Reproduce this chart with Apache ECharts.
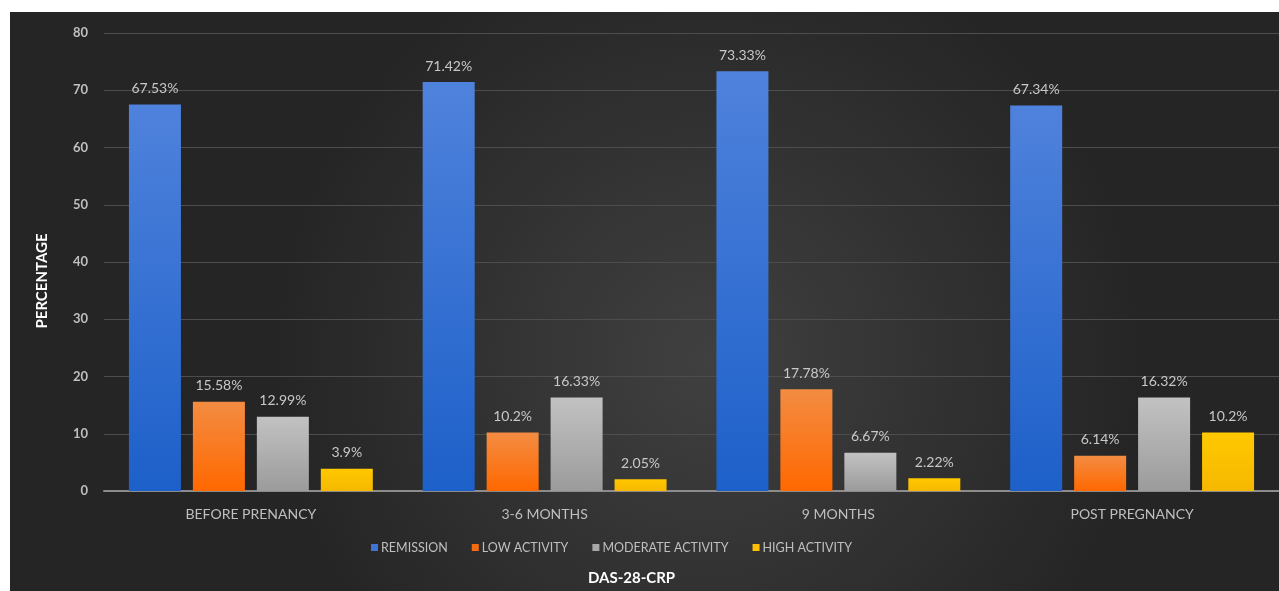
<!DOCTYPE html>
<html><head><meta charset="utf-8">
<script src="https://cdn.jsdelivr.net/npm/echarts@6/dist/echarts.min.js"></script>
<style>html,body{margin:0;padding:0;background:#fff;}#c{width:1279px;height:591px;}</style>
</head><body><div id="c"></div>
<script>
const categories = ['BEFORE PRENANCY', '3-6 MONTHS', '9 MONTHS', 'POST PREGNANCY'];
const seriesNames = ['REMISSION', 'LOW ACTIVITY', 'MODERATE ACTIVITY', 'HIGH ACTIVITY'];
const remission = [67.53, 71.42, 73.33, 67.34];
const lowActivity = [15.58, 10.2, 17.78, 6.14];
const moderateActivity = [12.99, 16.33, 6.67, 16.32];
const highActivity = [3.9, 2.05, 2.22, 10.2];
const yTicks = [0, 10, 20, 30, 40, 50, 60, 70, 80];

const values = [remission, lowActivity, moderateActivity, highActivity];
const grads = [
  ['#4f82dc', '#1d60c9'],
  ['#f38c42', '#ff6800'],
  ['#c2c2c2', '#9b9b9b'],
  ['#ffc800', '#f6b800']
];
const legendColors = ['#3d74d6', '#f46b12', '#a8a8a8', '#ffc000'];
const font = 'Lato, "Open Sans", sans-serif';

const chart = echarts.init(document.getElementById('c'));
chart.setOption({
  animation: false,
  textStyle: {fontFamily: font},
  graphic: [{
    type: 'rect', z: -10, left: 10, top: 12,
    shape: {width: 1269, height: 579},
    style: {fill: new echarts.graphic.RadialGradient(0.55, 0.6, 0.75, [
      {offset: 0, color: '#404040'}, {offset: 1, color: '#252525'}])}
  }],
  grid: {left: 104, right: -5, top: 33, bottom: 96},
  legend: {
    data: seriesNames.map((n, i) => ({name: n, itemStyle: {color: legendColors[i]}})),
    left: 366, top: 536, itemWidth: 7, itemHeight: 7, itemGap: 24,
    icon: 'rect',
    textStyle: {color: '#bfbfbf', fontSize: 12.5, fontFamily: font, padding: [0, 0, 0, -2]}
  },
  xAxis: {
    type: 'category', data: categories,
    name: 'DAS-28-CRP', nameLocation: 'middle', nameGap: 80,
    nameTextStyle: {color: '#ffffff', fontWeight: 'bold', fontSize: 15, fontFamily: font, padding: [0, 120, 0, 0]},
    axisLine: {lineStyle: {color: '#8c8c8c', width: 2}},
    axisTick: {show: false},
    axisLabel: {color: '#bfbfbf', fontSize: 14, margin: 16, fontFamily: font}
  },
  yAxis: {
    type: 'value', min: yTicks[0], max: yTicks[yTicks.length - 1], interval: 10,
    name: 'PERCENTAGE', nameLocation: 'middle', nameGap: 54, nameRotate: 90,
    nameTextStyle: {color: '#ffffff', fontWeight: 'bold', fontSize: 15, fontFamily: font, padding: [0, 38, 0, 0]},
    axisLine: {show: false}, axisTick: {show: false},
    axisLabel: {color: '#bfbfbf', fontSize: 13, margin: 16, fontWeight: 'bold', fontFamily: font},
    splitLine: {lineStyle: {color: '#4d4d4d', width: 1}}
  },
  series: seriesNames.map((n, i) => ({
    name: n, type: 'bar', data: values[i],
    barWidth: 52, barGap: '23%',
    itemStyle: {
      color: new echarts.graphic.LinearGradient(0, 0, 0, 1, [
        {offset: 0, color: grads[i][0]}, {offset: 1, color: grads[i][1]}])
    },
    label: {show: true, position: 'top', distance: 9, color: '#c8c8c8', fontSize: 14, fontFamily: font,
      formatter: p => p.value + '%'}
  }))
});
</script></body></html>
